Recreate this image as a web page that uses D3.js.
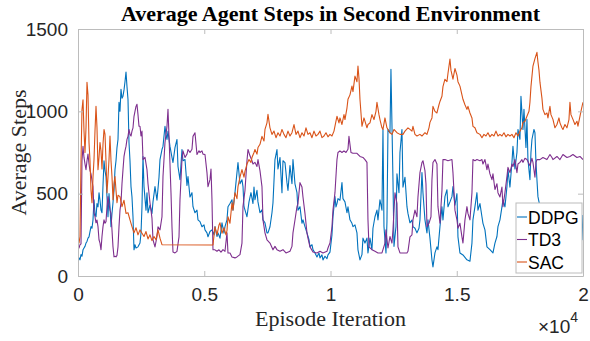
<!DOCTYPE html>
<html>
<head>
  <meta charset="utf-8">
  <title>Average Agent Steps in Second Environment</title>
  <script src="https://cdnjs.cloudflare.com/ajax/libs/d3/7.8.5/d3.min.js"></script>
  <style>
    body { margin: 0; background: #fff; }
    svg { display: block; }
    .tick text { font-family: "Liberation Sans", Arial, sans-serif; fill: #262626; }
  </style>
</head>
<body>
<svg id="chart" width="590" height="341"></svg>
<script>
// series: [episode, average steps]
var ddpg = [[0,90],[40,110],[79,98],[119,130],[158,120],[198,159],[238,170],[277,180],[317,200],[356,210],[396,230],[436,238],[475,270],[515,300],[554,290],[594,341],[634,463],[673,380],[713,360],[752,440],[792,420],[832,506],[871,460],[911,400],[950,384],[990,550],[1030,700],[1069,640],[1109,604],[1148,480],[1188,360],[1228,500],[1267,420],[1307,299],[1346,380],[1386,445],[1426,520],[1465,646],[1505,700],[1544,780],[1584,829],[1624,1055],[1663,1000],[1703,1134],[1742,1080],[1782,1092],[1822,1130],[1861,1180],[1901,1238],[1940,1150],[1980,1073],[2020,811],[2059,700],[2099,543],[2138,480],[2178,360],[2218,159],[2257,190],[2297,170],[2376,177],[2455,200],[2495,260],[2534,421],[2574,726],[2614,543],[2653,470],[2693,400],[2732,506],[2772,384],[2851,430],[2930,380],[2970,450],[3049,543],[3128,460],[3208,600],[3247,707],[3326,768],[3366,787],[3445,909],[3485,860],[3524,829],[3564,880],[3643,787],[3722,720],[3762,689],[3841,780],[3920,829],[3960,665],[4039,585],[4118,768],[4158,700],[4237,707],[4316,550],[4356,604],[4435,480],[4514,506],[4554,421],[4633,384],[4712,400],[4752,341],[4831,330],[4910,299],[4990,310],[5029,280],[5108,262],[5148,238],[5227,270],[5306,280],[5386,250],[5425,300],[5504,240],[5544,262],[5623,230],[5702,323],[5782,260],[5821,300],[5900,341],[5940,421],[6019,440],[6098,463],[6138,400],[6217,506],[6296,628],[6336,689],[6415,560],[6494,585],[6534,543],[6574,421],[6653,380],[6692,360],[6772,450],[6851,506],[6930,440],[6970,540],[7009,463],[7088,520],[7128,450],[7207,384],[7286,402],[7326,341],[7405,323],[7484,262],[7524,262],[7603,299],[7682,384],[7722,445],[7801,707],[7880,768],[7920,650],[8000,720],[8078,506],[8118,700],[8197,689],[8276,567],[8316,520],[8395,670],[8474,560],[8514,707],[8593,560],[8672,506],[8712,400],[8791,421],[8870,320],[8910,341],[8989,300],[9068,262],[9148,220],[9187,177],[9266,190],[9306,160],[9385,140],[9464,116],[9544,140],[9583,110],[9662,128],[9702,98],[9781,120],[9860,105],[9900,128],[9979,145],[10058,250],[10098,360],[10177,482],[10217,420],[10256,440],[10296,470],[10375,460],[10454,567],[10494,470],[10573,450],[10652,384],[10692,420],[10771,341],[10850,320],[10890,300],[10969,310],[11048,262],[11088,159],[11167,98],[11246,130],[11286,230],[11365,200],[11444,230],[11484,140],[11563,230],[11642,160],[11682,290],[11761,360],[11840,400],[11880,341],[11959,463],[12038,400],[12078,890],[12118,300],[12197,140],[12236,330],[12276,890],[12355,870],[12394,1256],[12474,585],[12514,180],[12593,300],[12632,620],[12712,506],[12751,750],[12830,890],[12870,540],[12950,600],[13028,421],[13068,380],[13147,323],[13226,340],[13266,300],[13345,290],[13424,262],[13504,290],[13543,341],[13622,628],[13662,506],[13741,341],[13820,262],[13860,341],[13939,230],[14018,98],[14058,55],[14137,140],[14216,177],[14256,160],[14335,300],[14414,421],[14454,341],[14533,482],[14612,524],[14652,421],[14731,450],[14810,482],[14850,543],[14929,430],[15008,500],[15048,238],[15127,140],[15246,128],[15404,98],[15523,90],[15602,200],[15642,341],[15721,421],[15800,506],[15840,400],[15919,440],[15998,360],[16038,320],[16117,280],[16196,177],[16315,160],[16434,140],[16513,200],[16592,240],[16632,300],[16711,341],[16790,420],[16830,463],[16909,420],[16988,543],[17028,646],[17107,540],[17186,689],[17226,787],[17305,650],[17384,750],[17424,890],[17503,830],[17543,1092],[17622,890],[17662,1012],[17741,780],[17780,951],[17820,707],[17899,585],[17939,750],[17978,829],[18058,890],[18097,870],[18137,690],[18176,585],[18216,482],[18295,421],[18493,360],[18691,300],[18889,320],[19087,280],[19285,300],[19483,260],[19681,280],[19800,330],[19879,240],[19919,300],[19958,220],[19998,370]];

var td3 = [[0,177],[40,170],[79,190],[119,195],[158,700],[198,787],[238,720],[277,680],[317,646],[356,700],[396,740],[436,680],[475,640],[515,620],[554,580],[594,543],[634,384],[673,360],[713,323],[752,340],[792,300],[832,220],[871,200],[911,159],[950,240],[990,300],[1030,341],[1069,320],[1109,330],[1148,420],[1188,482],[1228,440],[1267,400],[1307,380],[1346,280],[1386,177],[1426,116],[1465,120],[1505,116],[1544,125],[1584,177],[1624,300],[1663,400],[1703,445],[1742,560],[1782,646],[1822,726],[1861,760],[1901,787],[1940,830],[1980,848],[2020,890],[2059,860],[2099,850],[2138,880],[2178,900],[2218,970],[2257,1000],[2297,1030],[2336,1043],[2376,980],[2416,909],[2455,909],[2495,850],[2534,880],[2574,707],[2653,720],[2732,646],[2772,560],[2851,445],[2891,400],[2930,350],[2970,220],[3049,177],[3128,240],[3168,299],[3247,280],[3326,360],[3366,604],[3445,811],[3524,909],[3564,1012],[3604,850],[3683,506],[3722,299],[3762,146],[3841,140],[3920,150],[4000,238],[4039,463],[4118,707],[4158,760],[4237,720],[4316,740],[4356,768],[4435,750],[4514,770],[4554,848],[4633,870],[4712,738],[4792,760],[4831,750],[4910,760],[4950,740],[5029,738],[5108,628],[5148,543],[5227,585],[5267,650],[5306,463],[5346,159],[5425,159],[5504,150],[5584,159],[5663,145],[5742,160],[5821,150],[5900,262],[5940,140],[6019,140],[6098,116],[6217,110],[6296,116],[6415,130],[6494,200],[6534,421],[6613,520],[6692,700],[6732,768],[6811,730],[6890,700],[6930,680],[7009,690],[7088,665],[7128,707],[7207,640],[7286,543],[7326,341],[7405,262],[7484,220],[7603,200],[7722,159],[7801,180],[7880,160],[8000,150],[8118,160],[8237,140],[8395,150],[8474,180],[8514,262],[8593,340],[8672,421],[8712,440],[8791,567],[8870,540],[8910,480],[8989,380],[9068,262],[9108,230],[9187,177],[9306,146],[9464,140],[9583,150],[9702,140],[9860,150],[9900,170],[9979,200],[10058,299],[10098,400],[10177,506],[10256,707],[10296,750],[10375,760],[10454,750],[10534,760],[10613,750],[10692,770],[10731,848],[10811,750],[10890,745],[11048,745],[11167,726],[11286,720],[11365,707],[11444,690],[11484,341],[11524,177],[11642,160],[11761,150],[11880,140],[12038,140],[12078,160],[12157,200],[12197,280],[12276,170],[12355,240],[12434,200],[12474,280],[12553,506],[12632,441],[12672,177],[12751,140],[12870,140],[13028,140],[13068,150],[13147,238],[13226,250],[13266,341],[13345,400],[13424,360],[13464,480],[13543,628],[13622,689],[13662,700],[13741,640],[13781,560],[13820,299],[13900,320],[13979,360],[14018,585],[14058,689],[14137,707],[14216,680],[14256,421],[14335,320],[14414,520],[14454,707],[14533,707],[14652,700],[14810,707],[14850,628],[14929,400],[15008,341],[15048,290],[15127,320],[15206,238],[15246,200],[15325,341],[15404,421],[15444,380],[15523,341],[15602,506],[15642,707],[15721,700],[15800,707],[15919,700],[15998,707],[16038,680],[16117,707],[16196,646],[16236,680],[16315,620],[16394,585],[16434,620],[16513,525],[16592,560],[16632,506],[16711,480],[16790,540],[16830,421],[16909,506],[16988,604],[17028,660],[17107,628],[17186,680],[17226,665],[17305,707],[17384,628],[17424,680],[17503,690],[17582,707],[17622,690],[17701,715],[17780,707],[17899,670],[17978,715],[18018,690],[18097,600],[18137,690],[18176,707],[18295,707],[18414,720],[18572,707],[18691,738],[18770,720],[18810,707],[18968,726],[19087,707],[19206,738],[19364,720],[19483,726],[19602,738],[19760,720],[19879,726],[19998,707]];

var sac = [[0,220],[40,200],[79,240],[119,700],[158,1010],[198,1070],[238,880],[277,750],[317,900],[356,1177],[396,1100],[436,811],[475,700],[515,520],[554,445],[594,600],[634,707],[673,880],[713,1030],[752,900],[792,646],[832,720],[871,811],[911,760],[950,650],[990,800],[1030,890],[1069,860],[1109,700],[1148,506],[1188,600],[1228,707],[1267,850],[1307,700],[1346,604],[1386,463],[1426,560],[1465,604],[1505,520],[1544,445],[1584,490],[1663,482],[1742,421],[1822,460],[1901,380],[1980,384],[2059,341],[2138,300],[2218,262],[2297,293],[2376,250],[2455,280],[2534,260],[2614,240],[2693,270],[2772,225],[2851,250],[2930,215],[3010,240],[3089,220],[3168,280],[3247,230],[3326,190],[5346,188],[5425,299],[5504,250],[5584,310],[5623,323],[5702,260],[5782,293],[5861,250],[5900,275],[5940,360],[6019,320],[6098,445],[6138,400],[6217,506],[6296,470],[6336,543],[6415,600],[6494,646],[6574,600],[6613,635],[6692,680],[6772,707],[6851,690],[6890,720],[6970,750],[7009,768],[7088,740],[7128,780],[7207,800],[7286,848],[7366,820],[7405,890],[7484,930],[7524,982],[7603,900],[7682,860],[7762,880],[7841,840],[7920,870],[8000,850],[8078,890],[8158,860],[8237,840],[8316,880],[8395,850],[8474,870],[8554,920],[8633,860],[8712,880],[8791,840],[8870,870],[8950,850],[9029,900],[9108,860],[9187,870],[9266,840],[9346,880],[9425,850],[9504,860],[9583,880],[9662,840],[9742,850],[9821,870],[9900,845],[9979,860],[10058,850],[10138,880],[10217,940],[10256,970],[10336,930],[10375,960],[10454,920],[10534,980],[10573,950],[10652,1020],[10692,1073],[10771,1100],[10850,1153],[10890,1120],[10969,1214],[11048,1180],[11088,1275],[11128,1200],[11167,1073],[11246,909],[11326,960],[11365,940],[11444,900],[11484,920],[11563,930],[11642,980],[11722,950],[11801,1000],[11840,1055],[11920,980],[11959,950],[12038,900],[12078,890],[12157,960],[12236,900],[12355,870],[12434,860],[12514,890],[12632,870],[12751,860],[12870,860],[12950,880],[13068,900],[13147,890],[13226,880],[13266,909],[13345,860],[13424,850],[13543,860],[13622,850],[13741,870],[13820,860],[13900,900],[13939,933],[14018,960],[14058,1030],[14137,1000],[14216,990],[14296,1040],[14335,1060],[14414,1092],[14454,1150],[14533,1195],[14612,1180],[14652,1230],[14731,1317],[14770,1250],[14850,1195],[14929,1260],[15008,1220],[15048,1180],[15127,1153],[15206,1100],[15246,1073],[15325,1040],[15404,1012],[15444,1030],[15523,990],[15602,960],[15642,909],[15721,900],[15800,870],[15919,860],[15998,840],[16078,860],[16157,850],[16236,870],[16315,845],[16394,860],[16474,850],[16553,880],[16632,850],[16711,860],[16790,850],[16870,870],[16949,845],[17028,860],[17107,850],[17186,860],[17266,840],[17345,870],[17424,850],[17503,880],[17582,900],[17622,933],[17701,940],[17780,970],[17860,1000],[17899,1055],[17939,1150],[18018,1275],[18097,1320],[18176,1358],[18216,1300],[18256,1250],[18295,1177],[18374,1080],[18414,1012],[18493,980],[18572,990],[18612,960],[18691,1030],[18731,980],[18810,951],[18889,900],[18968,920],[19048,960],[19087,930],[19166,900],[19206,890],[19285,920],[19364,900],[19444,950],[19483,1055],[19523,980],[19602,951],[19681,920],[19760,940],[19800,910],[19879,970],[19919,1000],[19998,1055]];

var seriesNames = ["DDPG", "TD3", "SAC"];
var seriesColors = ["#0072BD", "#7E2F8E", "#D95319"];
var xTicks = [0, 5000, 10000, 15000, 20000];
var xTickLabels = ["0", "0.5", "1", "1.5", "2"];
var yTicks = [0, 500, 1000, 1500];

var svg = d3.select("#chart");
var mLeft = 78, mRight = 583, mTop = 29, mBottom = 276;

var x = d3.scaleLinear().domain([0, 20000]).range([mLeft, mRight]);
var y = d3.scaleLinear().domain([0, 1500]).range([mBottom, mTop]);

var axisColor = "#bcbcbc";

svg.append("defs").append("clipPath").attr("id", "plotclip")
  .append("rect").attr("x", mLeft).attr("y", mTop)
  .attr("width", mRight - mLeft).attr("height", mBottom - mTop);

// lines, first series drawn first
var line = d3.line().x(d => x(d[0])).y(d => y(d[1]));
var all = [ddpg, td3, sac];
svg.append("g").attr("clip-path", "url(#plotclip)")
  .selectAll("path").data(all).enter().append("path")
  .attr("d", line)
  .attr("fill", "none")
  .attr("stroke", (d, i) => seriesColors[i])
  .attr("stroke-width", 1.1)
  .attr("stroke-linejoin", "round");

// axes (ticks inward, box)
var xAxis = d3.axisBottom(x).tickValues(xTicks).tickFormat((d, i) => xTickLabels[i])
  .tickSizeInner(-5).tickSizeOuter(0).tickPadding(12);
var gx = svg.append("g").attr("transform", "translate(0," + mBottom + ")").call(xAxis);
gx.selectAll("text").style("font-size", "19px");

var yAxis = d3.axisLeft(y).tickValues(yTicks).tickFormat(d3.format("d"))
  .tickSizeInner(-5).tickSizeOuter(0).tickPadding(10);
var gy = svg.append("g").attr("transform", "translate(" + mLeft + ",0)").call(yAxis);
gy.selectAll("text").style("font-size", "19px");

var gxTop = svg.append("g").attr("transform", "translate(0," + mTop + ")")
  .call(d3.axisTop(x).tickValues(xTicks).tickFormat("").tickSizeInner(-5).tickSizeOuter(0));
var gyRight = svg.append("g").attr("transform", "translate(" + mRight + ",0)")
  .call(d3.axisRight(y).tickValues(yTicks).tickFormat("").tickSizeInner(-5).tickSizeOuter(0));

[gx, gy, gxTop, gyRight].forEach(g => {
  g.select(".domain").attr("stroke", axisColor);
  g.selectAll(".tick line").attr("stroke", axisColor);
});

// exponent
var expo = svg.append("text").attr("x", 538).attr("y", 333)
  .style("font-family", "'Liberation Sans', Arial, sans-serif").style("font-size", "19px")
  .attr("fill", "#262626");
expo.append("tspan").text("\u00d710");
expo.append("tspan").attr("dy", -11).style("font-size", "14px").text("4");

// title and axis labels
svg.append("text").attr("x", (mLeft + mRight) / 2).attr("y", 21)
  .attr("text-anchor", "middle")
  .style("font-family", "'Liberation Serif', 'Times New Roman', serif")
  .style("font-weight", "bold").style("font-size", "22px")
  .text("Average Agent Steps in Second Environment");

svg.append("text").attr("x", (mLeft + mRight) / 2).attr("y", 326)
  .attr("text-anchor", "middle")
  .style("font-family", "'Liberation Serif', 'Times New Roman', serif")
  .style("font-size", "22px").attr("fill", "#262626")
  .text("Episode Iteration");

svg.append("text")
  .attr("transform", "translate(26," + ((mTop + mBottom) / 2) + ") rotate(-90)")
  .attr("text-anchor", "middle")
  .style("font-family", "'Liberation Serif', 'Times New Roman', serif")
  .style("font-size", "22px").attr("fill", "#262626")
  .text("Average Steps");

// legend
var lg = svg.append("g").attr("transform", "translate(516,203)");
lg.append("rect").attr("width", 66).attr("height", 70)
  .attr("fill", "#fff").attr("stroke", axisColor);
var rows = lg.selectAll("g.row").data(seriesNames).enter().append("g")
  .attr("transform", (d, i) => "translate(0," + (14 + i * 22.5) + ")");
rows.append("line").attr("x1", 1).attr("x2", 11)
  .attr("stroke", (d, i) => seriesColors[i]).attr("stroke-width", 1.1);
rows.append("text").attr("x", 12).attr("y", 6.5)
  .style("font-family", "'Liberation Sans', Arial, sans-serif").style("font-size", "17.5px")
  .attr("fill", "#000").text(d => d);
</script>
</body>
</html>
